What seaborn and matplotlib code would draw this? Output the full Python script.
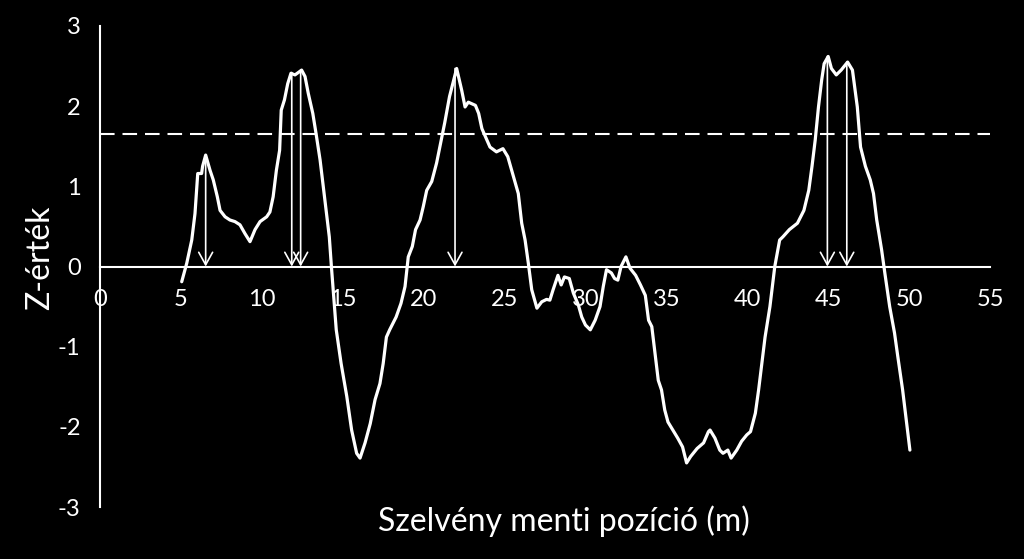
# -*- coding: utf-8 -*-
# Z-érték profil a szelvény mentén

# %%
# * 1. Import packages
import matplotlib
matplotlib.use("Agg")
import matplotlib.pyplot as plt
import seaborn as sns

# %%
# * 2. Data
position_m = [
    5.05, 5.36, 5.67, 5.87, 6.04, 6.28, 6.34, 6.53, 6.80, 7.00,
    7.25, 7.42, 7.73, 8.03, 8.34, 8.65, 8.96, 9.27, 9.58, 9.89,
    10.3, 10.5, 10.7, 10.9, 11.1, 11.2, 11.4, 11.6, 11.8, 12.05,
    12.46, 12.67, 12.87, 13.15, 13.35, 13.6, 13.9, 14.17, 14.3, 14.6,
    14.9, 15.25, 15.55, 15.86, 16.07, 16.38, 16.7, 17.0, 17.3, 17.5,
    17.7, 17.9, 18.3, 18.6, 18.85, 19.05, 19.3, 19.5, 19.78, 19.98,
    20.19, 20.5, 20.8, 21.0, 21.3, 21.6, 22.04, 22.35, 22.56, 22.76,
    23.2, 23.4, 23.6, 23.9, 24.1, 24.5, 24.9, 25.2, 25.5, 25.85,
    26.06, 26.27, 26.47, 26.68, 27.0, 27.3, 27.6, 27.8, 28.0, 28.3,
    28.5, 28.7, 29.0, 29.25, 29.56, 29.77, 30.0, 30.3, 30.6, 30.9,
    31.1, 31.3, 31.6, 31.8, 32.0, 32.2, 32.5, 32.75, 33.1, 33.4,
    33.7, 33.9, 34.1, 34.3, 34.5, 34.7, 34.9, 35.1, 35.4, 35.7,
    36.0, 36.25, 36.5, 36.9, 37.3, 37.6, 37.7, 38.0, 38.3, 38.5,
    38.8, 39.0, 39.35, 39.65, 39.97, 40.2, 40.5, 40.7, 40.9, 41.1,
    41.4, 41.7, 42.0, 42.2, 42.6, 43.1, 43.5, 43.8, 44.0, 44.2,
    44.4, 44.6, 44.75, 45.0, 45.2, 45.5, 45.8, 46.2, 46.5, 46.8,
    47.0, 47.3, 47.6, 47.8, 48.0, 48.3, 48.5, 48.8, 49.1, 49.3,
    49.6, 50.05,
]
z_value = [
    -0.19, 0.04, 0.33, 0.66, 1.16, 1.16, 1.25, 1.39, 1.20, 1.08,
    0.87, 0.70, 0.62, 0.58, 0.56, 0.52, 0.41, 0.31, 0.46, 0.56,
    0.62, 0.68, 0.87, 1.20, 1.45, 1.95, 2.08, 2.28, 2.41, 2.39,
    2.45, 2.37, 2.16, 1.91, 1.66, 1.33, 0.83, 0.37, 0.00, -0.79,
    -1.21, -1.62, -2.04, -2.33, -2.39, -2.20, -1.96, -1.66, -1.46, -1.21,
    -0.88, -0.79, -0.63, -0.46, -0.25, 0.12, 0.25, 0.46, 0.58, 0.75,
    0.95, 1.06, 1.29, 1.49, 1.79, 2.12, 2.47, 2.20, 1.99, 2.05,
    2.01, 1.91, 1.72, 1.58, 1.49, 1.43, 1.47, 1.37, 1.16, 0.91,
    0.54, 0.33, 0.04, -0.29, -0.52, -0.44, -0.41, -0.42, -0.29, -0.11,
    -0.23, -0.13, -0.15, -0.33, -0.48, -0.63, -0.73, -0.79, -0.67, -0.50,
    -0.25, -0.04, -0.08, -0.15, -0.17, 0.00, 0.12, -0.02, -0.11, -0.23,
    -0.36, -0.67, -0.75, -1.08, -1.42, -1.54, -1.79, -1.94, -2.04, -2.14,
    -2.25, -2.45, -2.37, -2.27, -2.20, -2.06, -2.04, -2.14, -2.29, -2.33,
    -2.29, -2.39, -2.29, -2.18, -2.10, -2.06, -1.83, -1.54, -1.21, -0.88,
    -0.50, 0.00, 0.33, 0.37, 0.46, 0.54, 0.70, 0.95, 1.25, 1.58,
    1.99, 2.33, 2.53, 2.62, 2.47, 2.39, 2.45, 2.55, 2.45, 1.99,
    1.49, 1.25, 1.08, 0.91, 0.58, 0.21, -0.08, -0.50, -0.83, -1.12,
    -1.54, -2.29,
]
# local maxima marked with arrows
peak_position = [6.53, 11.85, 12.4, 21.94, 44.95, 46.15]
peak_z = [1.39, 2.42, 2.45, 2.47, 2.62, 2.55]
# critical value (dashed line)
z_critical = 1.65

x_ticks = list(range(0, 56, 5))
y_ticks = [-3, -2, -1, 0, 1, 2, 3]

# %%
# * 3. Style
sns.set_theme(style="dark", rc={
    "figure.facecolor": "black",
    "axes.facecolor": "black",
    "axes.edgecolor": "white",
    "text.color": "white",
    "xtick.color": "white",
    "ytick.color": "white",
    "axes.grid": False,
})
plt.rcParams["font.family"] = ["Lato", "DejaVu Sans"]
plt.rcParams["axes.unicode_minus"] = False

# %%
# * 4. Plot
fig = plt.figure(figsize=(10.24, 5.59), dpi=100)
ax = fig.add_axes([100 / 1024, 1 - 507 / 559, 890 / 1024, 481 / 559])

sns.lineplot(x=position_m, y=z_value, ax=ax, color="white",
             linewidth=2.3, sort=False, estimator=None)

ax.axhline(z_critical, color="white", linewidth=1.5,
           linestyle=(0, (7, 3.8)))

for px, pz in zip(peak_position, peak_z):
    ax.annotate(
        "", xy=(px, 0), xytext=(px, pz),
        arrowprops=dict(arrowstyle="->,head_length=0.45,head_width=0.25",
                        color="white", lw=1.2, mutation_scale=20,
                        shrinkA=0, shrinkB=0),
    )

ax.set_xlim(0, 55)
ax.set_ylim(-3, 3)
ax.set_xticks(x_ticks)
ax.set_yticks(y_ticks)

# axis through zero, like in the original
ax.spines["bottom"].set_position(("data", 0))
ax.spines["top"].set_visible(False)
ax.spines["right"].set_visible(False)
for side in ["bottom", "left"]:
    ax.spines[side].set_linewidth(1.5)
    ax.spines[side].set_color("white")

ax.tick_params(axis="x", direction="out", length=6, width=1.5,
               labelsize=17, pad=10)
ax.tick_params(axis="y", direction="out", length=6, width=1.5,
               labelsize=17, pad=8)

ax.set_xlabel("")
ax.set_ylabel("")
fig.text(564 / 1024, 1 - 521 / 559, "Szelvény menti pozíció (m)",
         ha="center", va="center", fontsize=23, color="white")
fig.text(40 / 1024, 1 - 258 / 559, "Z-érték", rotation=90,
         ha="center", va="center", fontsize=23, color="white")

fig.savefig("out.png", dpi=100, facecolor="black")
